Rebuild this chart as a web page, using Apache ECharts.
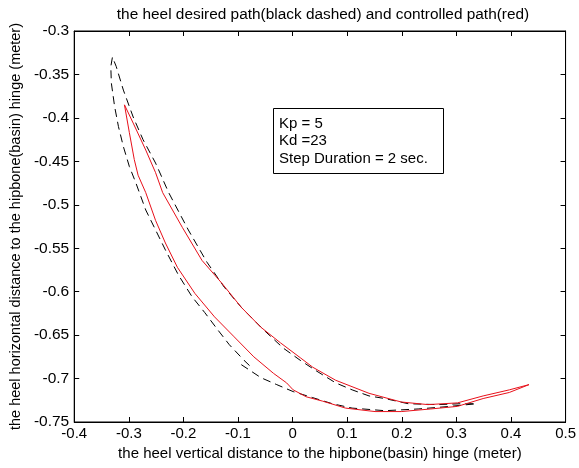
<!DOCTYPE html>
<html>
<head>
<meta charset="utf-8">
<script src="https://cdn.jsdelivr.net/npm/echarts@6/dist/echarts.min.js"></script>
<style>
html,body{margin:0;padding:0;background:#fff;}
#chart{width:579px;height:468px;}
</style>
</head>
<body>
<div id="chart"></div>
<script>
// Desired path (black dashed): bottom segment -> right end -> upper branch -> tip -> left branch
var desiredX = [-0.094,-0.058,-0.029,0.001,0.037,0.073,0.109,0.169,0.230,0.289,0.336,
  0.307,0.266,0.212,0.169,0.140,0.109,0.079,0.043,0.014,-0.017,-0.053,-0.094,-0.125,-0.157,-0.191,-0.227,-0.251,-0.274,-0.292,-0.310,-0.323,-0.330,
  -0.333,-0.332,-0.326,-0.319,-0.310,-0.299,-0.287,-0.269,-0.251,-0.233,-0.209,-0.184,-0.161,-0.137,-0.116,-0.089,-0.074];
var desiredY = [-0.684,-0.699,-0.707,-0.715,-0.722,-0.729,-0.734,-0.737,-0.735,-0.732,-0.729,
  -0.729,-0.730,-0.729,-0.723,-0.720,-0.713,-0.705,-0.691,-0.679,-0.665,-0.644,-0.618,-0.595,-0.566,-0.529,-0.486,-0.452,-0.425,-0.399,-0.368,-0.341,-0.330,
  -0.341,-0.360,-0.387,-0.410,-0.433,-0.456,-0.475,-0.506,-0.529,-0.552,-0.581,-0.606,-0.624,-0.644,-0.661,-0.679,-0.688];

// Controlled path (red): tip -> upper branch -> right end -> lower branch -> tip
var controlX = [-0.308,-0.292,-0.269,-0.251,-0.238,-0.220,-0.202,-0.166,-0.130,-0.094,-0.058,-0.022,0.014,0.037,0.079,0.140,0.199,0.248,0.302,0.349,0.397,0.433,
  0.397,0.349,0.302,0.253,0.199,0.151,0.097,0.055,0.025,0.001,-0.011,-0.035,-0.071,-0.107,-0.143,-0.179,-0.211,-0.233,-0.251,-0.269,-0.283,-0.290,-0.299,-0.308];
var controlY = [-0.385,-0.406,-0.437,-0.463,-0.486,-0.506,-0.526,-0.564,-0.590,-0.618,-0.641,-0.659,-0.676,-0.687,-0.702,-0.717,-0.727,-0.730,-0.728,-0.720,-0.713,-0.707,
  -0.716,-0.723,-0.732,-0.735,-0.738,-0.738,-0.734,-0.726,-0.721,-0.713,-0.705,-0.694,-0.675,-0.652,-0.629,-0.602,-0.572,-0.544,-0.518,-0.486,-0.466,-0.448,-0.417,-0.385];

var titleText = 'the heel desired path(black dashed) and controlled path(red)';
var xName = 'the heel vertical distance to the hipbone(basin) hinge (meter)';
var yName = 'the heel horizontal distance to the hipbone(basin) hinge (meter)';
var noteLines = ['Kp = 5', 'Kd =23', 'Step Duration = 2 sec.'];

function pairs(xs, ys){ var out=[]; for (var i=0;i<xs.length;i++) out.push([xs[i], ys[i]]); return out; }
function fmt(v){ return String(parseFloat(Number(v).toFixed(2))); }

var FONT = '"Liberation Sans", Arial, sans-serif';
var chart = echarts.init(document.getElementById('chart'), null, {renderer:'canvas'});
var tickStyle = {show:true, inside:true, length:5, lineStyle:{color:'#000', width:1}};
var lineAx = {show:true, onZero:false, lineStyle:{color:'#000', width:1}};
chart.setOption({
  backgroundColor:'#fff',
  animation:false,
  title:{text:titleText, left:318, top:2, textAlign:'center',
    textStyle:{fontFamily:FONT, fontSize:15.4, fontWeight:'normal', color:'#000'}},
  grid:{left:67, top:31, right:11, bottom:46, show:true, borderColor:'#000', borderWidth:1, backgroundColor:'#fff'},
  xAxis:[{type:'value', min:-0.4, max:0.5, interval:0.1, position:'bottom',
      name:xName, nameLocation:'middle', nameGap:24,
      nameTextStyle:{fontFamily:FONT, fontSize:15, color:'#000'},
      axisLine:lineAx, axisTick:tickStyle, splitLine:{show:false},
      axisLabel:{fontFamily:FONT, fontSize:15, color:'#000', margin:4, formatter:fmt}},
    {type:'value', min:-0.4, max:0.5, interval:0.1, position:'top',
      axisLine:lineAx, axisTick:tickStyle, splitLine:{show:false},
      axisLabel:{show:false}}],
  yAxis:[{type:'value', min:-0.75, max:-0.3, interval:0.05, position:'left',
      name:yName, nameLocation:'middle', nameGap:47,
      nameTextStyle:{fontFamily:FONT, fontSize:14.5, color:'#000'},
      axisLine:lineAx, axisTick:tickStyle, splitLine:{show:false},
      axisLabel:{fontFamily:FONT, fontSize:15.5, color:'#000', margin:5, formatter:fmt}},
    {type:'value', min:-0.75, max:-0.3, interval:0.05, position:'right',
      axisLine:lineAx, axisTick:tickStyle, splitLine:{show:false},
      axisLabel:{show:false}}],
  series:[
    {type:'line', name:'desired', xAxisIndex:0, yAxisIndex:0, data:pairs(desiredX, desiredY),
      showSymbol:false, symbol:'none', smooth:false,
      lineStyle:{color:'#000', width:1, type:[8,5]}},
    {type:'line', name:'controlled', xAxisIndex:0, yAxisIndex:0, data:pairs(controlX, controlY),
      showSymbol:false, symbol:'none', smooth:false,
      lineStyle:{color:'#e8101a', width:1}}
  ],
  graphic:[
    {type:'rect', shape:{x:273.5, y:108.5, width:170, height:65},
      style:{fill:'#fff', stroke:'#000', lineWidth:1}, z:100},
    {type:'text', left:279, top:115, z:101,
      style:{text:noteLines.join('\n'), fontFamily:FONT, fontSize:15, lineHeight:17.5, fill:'#000'}}
  ]
});
</script>
</body>
</html>
